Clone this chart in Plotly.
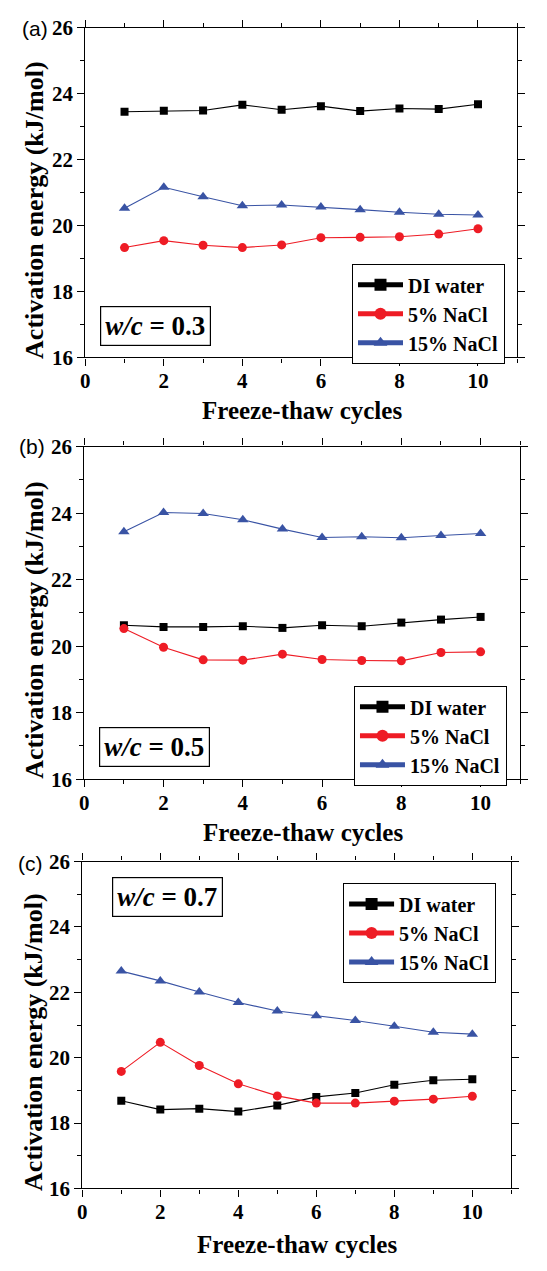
import plotly.graph_objects as go

W, H = 547, 1271

cycles = [1, 2, 3, 4, 5, 6, 7, 8, 9, 10]
series_names = ["DI water", "5% NaCl", "15% NaCl"]

# panel (a) w/c = 0.3
a_di = [23.45, 23.48, 23.49, 23.66, 23.51, 23.62, 23.47, 23.55, 23.53, 23.68]
a_5 = [19.33, 19.54, 19.40, 19.33, 19.41, 19.63, 19.64, 19.66, 19.74, 19.90]
a_15 = [20.52, 21.16, 20.87, 20.60, 20.62, 20.56, 20.48, 20.40, 20.34, 20.32]

# panel (b) w/c = 0.5
b_di = [20.63, 20.58, 20.58, 20.60, 20.55, 20.63, 20.60, 20.71, 20.80, 20.88]
b_5 = [20.53, 19.97, 19.59, 19.58, 19.76, 19.60, 19.57, 19.56, 19.81, 19.83]
b_15 = [23.44, 24.02, 23.99, 23.80, 23.52, 23.27, 23.29, 23.26, 23.33, 23.39]

# panel (c) w/c = 0.7
c_di = [18.68, 18.41, 18.44, 18.35, 18.54, 18.80, 18.92, 19.17, 19.31, 19.34]
c_5 = [19.58, 20.47, 19.76, 19.20, 18.83, 18.61, 18.61, 18.67, 18.73, 18.82]
c_15 = [22.65, 22.35, 22.01, 21.69, 21.43, 21.28, 21.14, 20.96, 20.78, 20.72]

panel_labels = ["(a)", "(b)", "(c)"]
wc_labels = ["0.3", "0.5", "0.7"]
x_ticks = [0, 2, 4, 6, 8, 10]
y_ticks = [16, 18, 20, 22, 24, 26]

colors = ["#000000", "#ee1c25", "#3953a4"]
symbols = ["square", "circle", "triangle-up"]
msizes = [8, 9, 10]

SERIF = "Liberation Serif"

# pixel boxes of each plot area: (left, right, top, bottom)
boxes = [(81, 517, 16, 352), (80, 520, 443, 782), (78, 511, 866, 1199)]
legend_pos = [(350, 257), (352, 687), (341, 888)]
wc_pos = [(152, 320), (151, 749), (164, 902)]
plabel_pos = [(30, 17), (27, 443), (26, 868)]
ytitle_pos = [(29, 202), (29, 630), (28, 1050)]
xtitle_pos = [(300, 406), (301, 836), (295, 1256)]

data = [(a_di, a_5, a_15), (b_di, b_5, b_15), (c_di, c_5, c_15)]

fig = go.Figure()
layout = dict(
    width=W, height=H, margin=dict(l=0, r=0, t=0, b=0),
    paper_bgcolor="white", plot_bgcolor="white", annotations=[],
)

def px(x):
    return x / W

def py(y):
    return 1 - y / H

def ann(x, y, text, font, **kw):
    d = dict(x=px(x), y=py(y), xref="paper", yref="paper", showarrow=False,
             xanchor="center", yanchor="middle", text=text, font=font)
    d.update(kw)
    return d

for i in range(3):
    sfx = "" if i == 0 else str(i + 1)
    leg = "legend" if i == 0 else "legend" + str(i + 1)
    for j in range(3):
        fig.add_trace(go.Scatter(
            x=cycles, y=data[i][j], name=series_names[j],
            mode="lines+markers",
            line=dict(color=colors[j], width=1.1),
            marker=dict(symbol=symbols[j], size=msizes[j], color=colors[j]),
            xaxis="x" + sfx, yaxis="y" + sfx, legend=leg,
        ))
    l, r, t, b = boxes[i]
    axcommon = dict(
        showline=True, linecolor="black", linewidth=1.3, mirror="allticks",
        ticks="outside", ticklen=7, tickwidth=1.3, tickcolor="black",
        showgrid=False, zeroline=False,
        tickfont=dict(family=SERIF, size=21, color="black", weight="bold"),
    )
    layout["xaxis" + sfx] = dict(
        axcommon, domain=[px(l), px(r)], anchor="y" + sfx,
        range=[0, 11], tickvals=x_ticks, ticklabelstandoff=-3,
        minor=dict(tickvals=[1, 3, 5, 7, 9, 11], ticks="outside", ticklen=4, tickwidth=1.2, tickcolor="black"),
    )
    layout["yaxis" + sfx] = dict(
        axcommon, domain=[py(b), py(t)], anchor="x" + sfx,
        range=[16, 26], tickvals=y_ticks,
        minor=dict(tickvals=[17, 19, 21, 23, 25], ticks="outside", ticklen=4, tickwidth=1.2, tickcolor="black"),
    )
    lx, ly = legend_pos[i]
    layout[leg] = dict(
        x=px(lx), y=py(ly), xanchor="left", yanchor="top",
        bordercolor="black", borderwidth=1.2, bgcolor="white",
        font=dict(family=SERIF, size=20, color="black", weight="bold"),
        tracegroupgap=0, itemsizing="constant", itemwidth=45,
    )
    wx, wy = wc_pos[i]
    layout["annotations"].append(ann(
        wx, wy, "<b><i>w/c</i> = " + wc_labels[i] + "</b>",
        dict(family=SERIF, size=27, color="black"),
        bordercolor="black", borderwidth=1.2, borderpad=4, bgcolor="white",
    ))
    plx, ply = plabel_pos[i]
    layout["annotations"].append(ann(
        plx, ply, panel_labels[i],
        dict(family="Liberation Sans", size=21, color="black"),
    ))
    yx, yy = ytitle_pos[i]
    layout["annotations"].append(ann(
        yx, yy, "<b>Activation energy (kJ/mol)</b>",
        dict(family=SERIF, size=26, color="black"), textangle=-90,
    ))
    xx, xy = xtitle_pos[i]
    layout["annotations"].append(ann(
        xx, xy, "<b>Freeze-thaw cycles</b>",
        dict(family=SERIF, size=25, color="black"),
    ))

fig.update_layout(**layout)
fig.write_html("out.html")
